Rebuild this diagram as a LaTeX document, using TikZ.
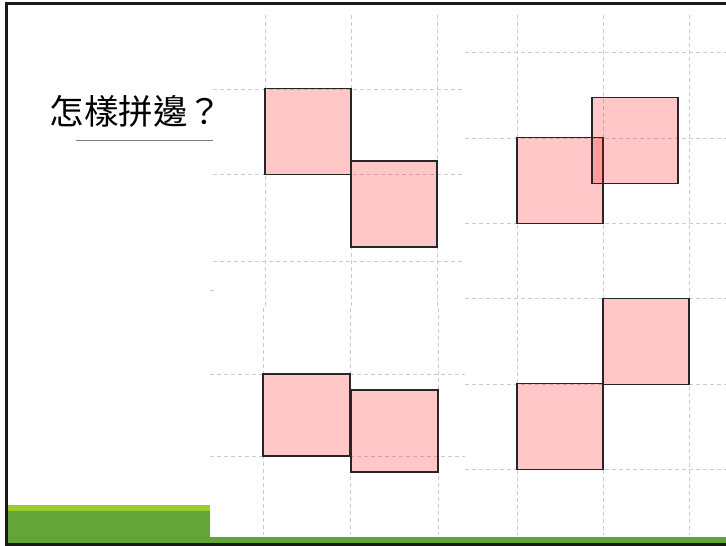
\documentclass[tikz,border=0pt]{standalone}
\usepackage{fontspec}
\newfontfamily\cjk{Noto Sans CJK TC}
\definecolor{grassdark}{RGB}{99,165,55}
\definecolor{grasslight}{RGB}{154,205,50}

\begin{document}
\begin{tikzpicture}[x=1pt, y=-1pt,
	grid/.style={gray!40, line width=0.8pt, dash pattern=on 4pt off 3pt},
	tile/.style={draw=black!85, line width=1.2pt, fill=red, fill opacity=0.22, draw opacity=1,
		minimum width=86pt, minimum height=86pt, inner sep=0pt, outer sep=0pt}]
	\useasboundingbox (0,0) rectangle (726,546);

	% dashed guide lines
	\draw[grid] (265,15) -- (265,307) (351,15) -- (351,307) (437,15) -- (437,307);
	\draw[grid] (213,89) -- (465,89) (213,174) -- (465,174) (213,261) -- (465,261);
	\draw[grid] (210,290) -- (214,290);
	\draw[grid] (263,308) -- (263,535) (350,308) -- (350,535) (438,308) -- (438,535);
	\draw[grid] (210,374) -- (465,374) (210,456) -- (465,456);
	\draw[grid] (517,15) -- (517,535) (603,15) -- (603,535) (689,15) -- (689,535);
	\draw[grid] (465,52) -- (726,52) (465,138) -- (726,138) (465,223) -- (726,223);
	\draw[grid] (465,298) -- (726,298) (465,384) -- (726,384) (465,469) -- (726,469);

	\node (title) at (136,111) {\cjk\fontsize{34.5}{40}\selectfont 怎樣拼邊？};
	\draw[gray, line width=0.8pt] (76,140) -- (213,140);

	\node[tile] (A1) at (308,131.5) {};
	\node[tile] (A2) at (394,204) {};
	\node[tile] (B1) at (560,180.5) {};
	\node[tile] (B2) at (635,140.5) {};
	\node[tile, minimum width=87pt, minimum height=82pt] (C1) at (306.5,415) {};
	\node[tile, minimum width=87pt, minimum height=82pt] (C2) at (394.5,431) {};
	\node[tile] (D1) at (560,426.5) {};
	\node[tile] (D2) at (646,341.5) {};

	% footer bar
	\fill[grassdark] (7,511) rectangle (210,543);
	\fill[grasslight] (7,505) rectangle (210,511);
	\fill[grassdark] (210,537) rectangle (726,543);

	\draw[black!90, line width=3pt] (726,3) -- (6,3) -- (6,544.5) -- (726,544.5);
\end{tikzpicture}
\end{document}
